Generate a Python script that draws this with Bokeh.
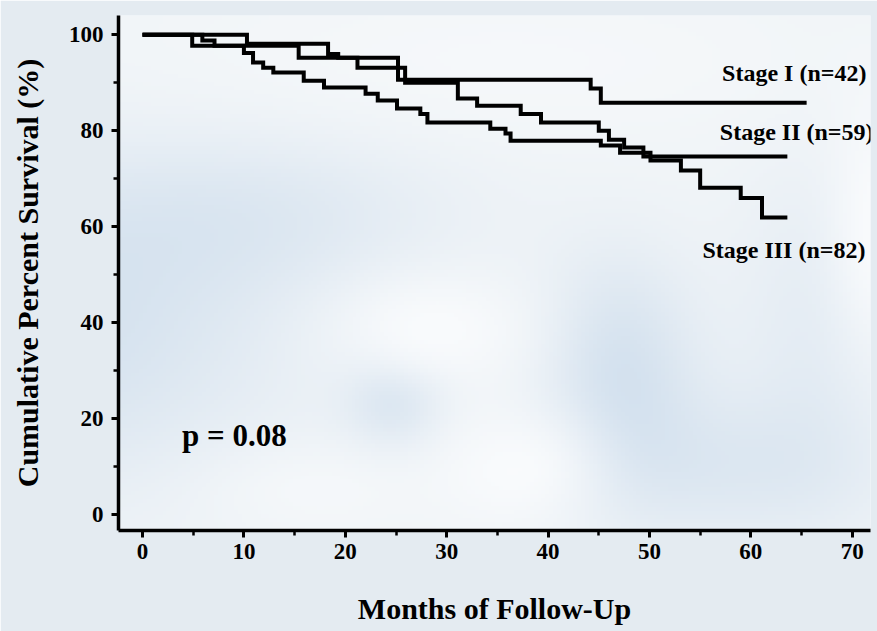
import numpy as np
from bokeh.plotting import figure
from bokeh.models import FixedTicker, Label, Range1d
from bokeh.embed import file_html
from bokeh.resources import INLINE

# Kaplan-Meier survival steps: month of each step and survival (%) after it
stage1_months = [0, 10.3, 18.3, 19.3, 25.2, 44.2, 45.2, 65.5]
stage1_surv = [100, 98.1, 96.0, 95.2, 90.6, 88.8, 85.8, 85.8]

stage2_months = [0, 4.9, 15.4, 21.2, 25.9, 31.1, 33.0, 37.3, 39.3, 45.0, 46.0, 47.5, 49.4, 63.6]
stage2_surv = [100, 97.7, 95.2, 93.1, 90.0, 86.7, 85.2, 83.5, 81.7, 80.0, 78.1, 76.5, 74.6, 74.6]

stage3_months = [0, 5.9, 7.1, 10.0, 10.9, 11.9, 12.9, 15.9, 17.9, 22.0, 23.2, 25.1, 27.4,
                 28.1, 34.3, 35.8, 36.3, 45.2, 47.1, 50.1, 53.1, 55.0, 59.0, 61.1, 63.6]
stage3_surv = [100, 98.8, 97.7, 96.2, 94.2, 93.1, 92.1, 90.4, 89.0, 87.7, 86.3, 84.6, 83.5,
               81.7, 80.4, 79.4, 77.9, 76.9, 75.4, 73.8, 71.7, 68.1, 66.0, 61.9, 61.9]

stage_labels = ["Stage I (n=42)", "Stage II (n=59)", "Stage III (n=82)"]
p_value_text = "p = 0.08"

x_ticks = [0, 10, 20, 30, 40, 50, 60, 70]
x_minor = [5, 15, 25, 35, 45, 55, 65]
y_ticks = [0, 20, 40, 60, 80, 100]
y_minor = [10, 30, 50, 70, 90]

SERIF = "Liberation Serif"
X0, X1 = -2.37, 71.8
Y0, Y1 = -3.3, 104.0

p = figure(width=877, height=631, x_range=Range1d(X0, X1), y_range=Range1d(Y0, Y1),
           output_backend="svg", toolbar_location=None,
           min_border_left=118, min_border_right=7, min_border_top=15, min_border_bottom=101)

p.background_fill_color = "#eef3f7"
p.border_fill_color = "#e4ebf1"
p.outline_line_color = None
p.grid.visible = False

# soft sky backdrop inside the plotting area
nx, ny = 190, 130
fx = np.linspace(118, 870, nx)
fy = np.linspace(530, 15, ny)  # row 0 is the bottom
PX, PY = np.meshgrid(fx, fy)


def blob(cx, cy, sx, sy):
    return np.exp(-(((PX - cx) / sx) ** 2 + ((PY - cy) / sy) ** 2) / 2)


base = np.array([0.945, 0.960, 0.972])
blue = np.array([0.78, 0.85, 0.92])
white = np.array([0.985, 0.99, 0.995])
b = (0.65 * blob(40, 330, 170, 110) + 0.65 * blob(620, 370, 55, 80) + 0.55 * blob(395, 400, 35, 35)
     + 0.35 * blob(260, 210, 140, 60) + 0.40 * blob(720, 470, 110, 55) + 0.30 * blob(820, 330, 60, 120))
b = np.clip(b, 0, 0.9)
w = (0.85 * blob(430, 330, 70, 40) + 0.85 * blob(520, 470, 60, 45) + 0.5 * blob(310, 490, 80, 35)
     + 0.9 * blob(880, 230, 35, 90) + 0.45 * blob(500, 60, 250, 60))
w = np.clip(w, 0, 0.9)
rgb = base[None, None, :] * (1 - b[..., None]) + blue[None, None, :] * b[..., None]
rgb = rgb * (1 - w[..., None]) + white[None, None, :] * w[..., None]
rgb8 = (np.clip(rgb, 0, 1) * 255).astype(np.uint32)
img = (255 << 24) | (rgb8[..., 2] << 16) | (rgb8[..., 1] << 8) | rgb8[..., 0]
p.image_rgba(image=[img.astype(np.uint32)], x=X0, y=Y0, dw=X1 - X0, dh=Y1 - Y0)

# survival curves
for months, surv in [(stage1_months, stage1_surv), (stage2_months, stage2_surv),
                     (stage3_months, stage3_surv)]:
    p.step(months, surv, mode="after", line_color="black", line_width=4, line_join="miter")

# axes
for ax in (p.xaxis[0], p.yaxis[0]):
    ax.axis_line_width = 3.5
    ax.axis_line_color = "black"
    ax.major_tick_line_width = 3
    ax.minor_tick_line_width = 2.5
    ax.major_tick_out = 7
    ax.major_tick_in = 0
    ax.minor_tick_out = 5
    ax.minor_tick_in = 0
    ax.major_label_text_font = SERIF
    ax.major_label_text_font_style = "bold"
    ax.major_label_text_font_size = "23px"
    ax.major_label_text_color = "black"
    ax.axis_label_text_font = SERIF
    ax.axis_label_text_font_style = "bold"
    ax.axis_label_text_color = "black"

p.xaxis.ticker = FixedTicker(ticks=x_ticks, minor_ticks=x_minor)
p.yaxis.ticker = FixedTicker(ticks=y_ticks, minor_ticks=y_minor)
p.xaxis.axis_label = "Months of Follow-Up"
p.yaxis.axis_label = "Cumulative Percent Survival (%)"
p.xaxis.axis_label_text_font_size = "30px"
p.yaxis.axis_label_text_font_size = "30px"
p.xaxis.major_label_standoff = 6
p.yaxis.major_label_standoff = 8
p.xaxis.axis_label_standoff = 30
p.yaxis.axis_label_standoff = 22

# curve labels and test statistic
label_pos = [(71.4, 92.1), (72.1, 79.8), (71.3, 55.2)]
for text, (lx, ly) in zip(stage_labels, label_pos):
    p.add_layout(Label(x=lx, y=ly, text=text, text_align="right", text_baseline="middle",
                       text_font=SERIF, text_font_style="bold", text_font_size="24px",
                       text_color="black"))
p.add_layout(Label(x=3.9, y=16.5, text=p_value_text, text_align="left", text_baseline="middle",
                   text_font=SERIF, text_font_style="bold", text_font_size="31px",
                   text_color="black"))

open("out.html", "w").write(file_html(p, INLINE))
